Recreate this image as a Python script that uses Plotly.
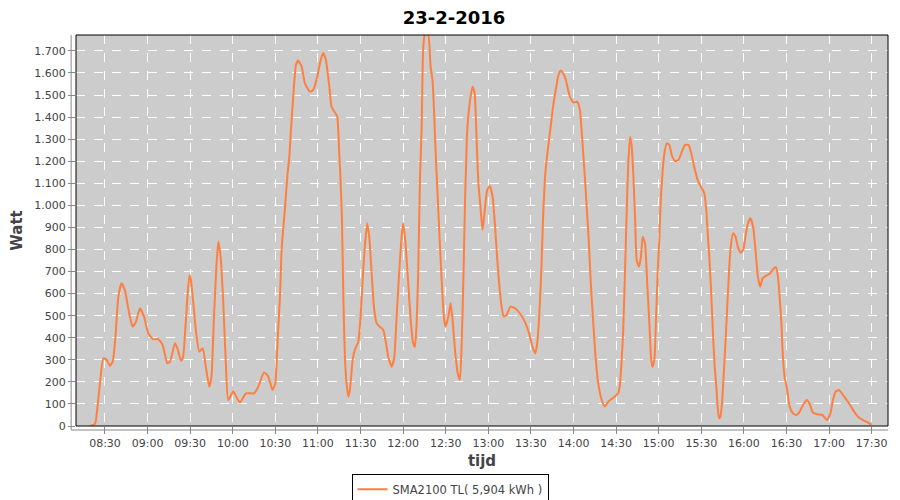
import plotly.graph_objects as go

DAY = "2016-02-23"

times = [
    "08:19:20", "08:23:00", "08:24:10", "08:26:30", "08:28:50", "08:31:10", "08:33:30", "08:35:25",
    "08:37:00", "08:39:25", "08:41:40", "08:44:00", "08:47:00", "08:49:30", "08:51:50", "08:54:35",
    "08:57:30", "09:00:30", "09:04:00", "09:07:30", "09:10:35", "09:13:55", "09:15:50", "09:19:20",
    "09:21:00", "09:23:30", "09:25:00", "09:27:00", "09:29:25", "09:30:30", "09:32:00", "09:34:00",
    "09:36:25", "09:38:50", "09:41:00", "09:43:25", "09:45:00", "09:46:40", "09:48:35", "09:49:50",
    "09:51:25", "09:53:20", "09:55:00", "09:56:50", "10:00:20", "10:05:00", "10:09:20", "10:15:00",
    "10:18:00", "10:22:00", "10:25:00", "10:28:00", "10:30:00", "10:31:30", "10:33:20", "10:34:25",
    "10:36:50", "10:38:25", "10:39:50", "10:41:00", "10:42:35", "10:44:30", "10:46:00", "10:48:30",
    "10:50:50", "10:54:20", "10:56:40", "10:59:30", "11:01:55", "11:03:40", "11:05:35", "11:08:00",
    "11:09:35", "11:12:00", "11:13:35", "11:15:00", "11:16:00", "11:16:55", "11:17:50", "11:19:00",
    "11:20:10", "11:21:20", "11:22:30", "11:24:25", "11:26:00", "11:28:25", "11:30:00", "11:31:55",
    "11:33:00", "11:34:40", "11:36:05", "11:37:50", "11:39:25", "11:41:20", "11:43:35", "11:46:00",
    "11:47:55", "11:49:30", "11:51:50", "11:53:40", "11:55:25", "11:57:10", "11:58:55", "12:00:00",
    "12:01:40", "12:03:35", "12:05:20", "12:07:05", "12:08:20", "12:09:30", "12:10:35", "12:11:50",
    "12:13:00", "12:14:05", "12:15:20", "12:17:35", "12:19:20", "12:20:40", "12:21:50", "12:23:00",
    "12:24:40", "12:25:50", "12:27:30", "12:28:40", "12:29:55", "12:31:50", "12:33:25", "12:34:50",
    "12:36:30", "12:38:25", "12:40:00", "12:41:10", "12:42:25", "12:43:35", "12:45:10", "12:47:10",
    "12:48:50", "12:50:20", "12:51:55", "12:53:00", "12:54:30", "12:55:55", "12:57:30", "12:59:10",
    "13:01:05", "13:03:00", "13:04:35", "13:06:10", "13:07:35", "13:09:20", "13:10:55", "13:12:50",
    "13:15:35", "13:18:40", "13:22:10", "13:25:40", "13:28:40", "13:31:05", "13:33:00", "13:34:25",
    "13:35:50", "13:37:30", "13:38:35", "13:40:20", "13:42:10", "13:43:55", "13:45:35", "13:47:30",
    "13:49:05", "13:51:00", "13:52:40", "13:54:35", "13:56:10", "13:57:55", "14:00:10", "14:02:35",
    "14:04:30", "14:05:40", "14:07:20", "14:09:10", "14:10:50", "14:12:10", "14:13:55", "14:15:30",
    "14:17:25", "14:19:50", "14:22:05", "14:24:25", "14:28:00", "14:31:30", "14:32:40", "14:33:55",
    "14:35:00", "14:36:10", "14:37:25", "14:38:35", "14:39:50", "14:41:00", "14:42:05", "14:43:20",
    "14:44:30", "14:46:05", "14:47:30", "14:48:40", "14:50:20", "14:51:55", "14:53:25", "14:54:35",
    "14:55:30", "14:56:55", "14:58:05", "14:59:20", "15:00:25", "15:01:25", "15:02:50", "15:04:00",
    "15:05:40", "15:07:30", "15:09:10", "15:11:30", "15:13:55", "15:16:20", "15:18:35", "15:21:00",
    "15:22:55", "15:25:00", "15:27:25", "15:29:40", "15:32:05", "15:33:30", "15:34:40", "15:35:55",
    "15:37:05", "15:38:20", "15:39:25", "15:40:35", "15:41:30", "15:42:30", "15:43:25", "15:44:35",
    "15:45:50", "15:47:00", "15:48:10", "15:49:20", "15:50:30", "15:52:25", "15:54:05", "15:55:40",
    "15:57:35", "15:59:30", "16:01:05", "16:02:50", "16:04:35", "16:06:30", "16:08:10", "16:09:50",
    "16:11:30", "16:13:10", "16:15:30", "16:18:35", "16:21:00", "16:22:35", "16:24:00", "16:25:10",
    "16:26:25", "16:27:20", "16:28:40", "16:30:20", "16:32:15", "16:34:35", "16:37:00", "16:39:20",
    "16:42:05", "16:44:25", "16:46:20", "16:48:40", "16:52:10", "16:55:15", "16:58:30", "17:00:55",
    "17:02:45", "17:04:35", "17:07:00", "17:09:50", "17:13:20", "17:16:50", "17:20:20", "17:23:55",
    "17:27:25", "17:29:50",
]

watts = [
    0, 10, 55, 195, 307, 300, 273, 292,
    375, 586, 647, 616, 511, 450, 473, 534,
    496, 420, 393, 394, 367, 284, 292, 375,
    352, 296, 314, 480, 684, 662, 571, 435,
    337, 352, 269, 178, 224, 480, 737, 836,
    767, 556, 299, 118, 156, 106, 148, 148,
    178, 243, 224, 163, 194, 375, 600, 798,
    994, 1130, 1221, 1342, 1493, 1635, 1656, 1629,
    1553, 1515, 1523, 1583, 1659, 1690, 1659, 1538,
    1447, 1420, 1402, 1236, 1100, 934, 602, 307,
    194, 133, 163, 299, 345, 382, 496, 707,
    813, 919, 858, 692, 541, 466, 450, 435,
    375, 314, 269, 307, 496, 692, 858, 919,
    828, 647, 480, 375, 359, 466, 692, 1115,
    1342, 1704, 1775, 1775, 1629, 1568, 1417, 1221,
    994, 828, 616, 496, 450, 496, 556, 480,
    345, 239, 209, 359, 662, 1009, 1342, 1478,
    1538, 1508, 1266, 1100, 990, 888, 979, 1070,
    1088, 1040, 919, 767, 647, 541, 496, 503,
    541, 534, 511, 473, 420, 359, 329, 375,
    496, 737, 949, 1160, 1266, 1357, 1447, 1523,
    1583, 1611, 1599, 1568, 1523, 1486, 1466, 1470,
    1432, 1342, 1191, 1009, 828, 647, 466, 314,
    194, 118, 88, 110, 128, 148, 186, 299,
    435, 677, 964, 1191, 1311, 1266, 1145, 949,
    752, 722, 767, 858, 828, 647, 466, 314,
    269, 299, 480, 707, 843, 1024, 1160, 1236,
    1281, 1274, 1228, 1201, 1206, 1243, 1274, 1274,
    1236, 1175, 1115, 1085, 1055, 979, 858, 737,
    586, 405, 269, 178, 88, 35, 42, 103,
    239, 375, 526, 677, 798, 873, 858, 813,
    786, 798, 858, 919, 941, 903, 798, 677,
    631, 669, 680, 692, 714, 719, 677, 586,
    466, 329, 224, 170, 88, 57, 50, 65,
    100, 118, 100, 60, 53, 50, 27, 57,
    118, 156, 163, 140, 110, 73, 42, 27,
    15, 5,
]

series_name = "SMA2100 TL( 5,904 kWh )"
chart_title = "23-2-2016"
x_title = "tijd"
y_title = "Watt"

x = [f"{DAY} {t}" for t in times]

fig = go.Figure()
fig.add_trace(go.Scatter(
    x=x, y=watts, mode="lines", name=series_name,
    line=dict(color="#FF7F3F", width=2, shape="spline", smoothing=0.5),
))

grey_txt = "#444444"
# the page places the figure 8px in from the top-left corner, so the figure is 892x492
fig.update_layout(
    width=892, height=492,
    margin=dict(l=68, r=12, t=27, b=74, autoexpand=False),
    paper_bgcolor="white",
    plot_bgcolor="#CCCCCC",
    separators=",.",
    font=dict(family="DejaVu Sans", size=11, color=grey_txt),
    title=dict(text=chart_title, x=0.5, xanchor="center", xref="container",
               y=1.0, yanchor="top", yref="container", pad=dict(t=3, b=0),
               font=dict(family="DejaVu Sans", size=18, color="black", weight="bold")),
    showlegend=True,
    legend=dict(x=0.4606, xanchor="center", y=-0.122, yanchor="top",
                orientation="h", bgcolor="white", bordercolor="black", borderwidth=1,
                font=dict(family="DejaVu Sans", size=11.5, color=grey_txt),
                itemwidth=30),
    xaxis=dict(
        type="date", automargin=False,
        range=[f"{DAY} 08:09:35", f"{DAY} 17:41:30"],
        tick0=f"{DAY} 08:30", dtick=1800000, tickformat="%H:%M",
        showgrid=True, gridcolor="white", griddash="dash", gridwidth=1,
        ticks="outside", ticklen=7, tickcolor="#888888",
        showline=False, zeroline=False,
        title=dict(text=x_title, font=dict(size=15, color=grey_txt, weight="bold"), standoff=6),
        tickfont=dict(size=11, color=grey_txt),
    ),
    yaxis=dict(
        automargin=False,
        range=[0, 1772],
        tick0=0, dtick=100, tickformat=",d",
        showgrid=True, gridcolor="white", griddash="dash", gridwidth=1,
        ticks="outside", ticklen=7, tickcolor="#888888",
        showline=False, zeroline=False,
        title=dict(text=y_title, font=dict(size=15, color=grey_txt, weight="bold"), standoff=8),
        tickfont=dict(size=11, color=grey_txt),
    ),
    shapes=[
        dict(type="rect", xref="paper", yref="paper", x0=0, x1=1, y0=0, y1=1,
             line=dict(color="black", width=1), fillcolor="rgba(0,0,0,0)", layer="above"),
        dict(type="line", xref="paper", yref="paper", x0=-0.006, x1=-0.006, y0=-0.01, y1=1,
             line=dict(color="#888888", width=1)),
        dict(type="line", xref="paper", yref="paper", x0=-0.006, x1=1, y0=-0.0102, y1=-0.0102,
             line=dict(color="#888888", width=1)),
    ],
)

fig.write_html("out.html")
